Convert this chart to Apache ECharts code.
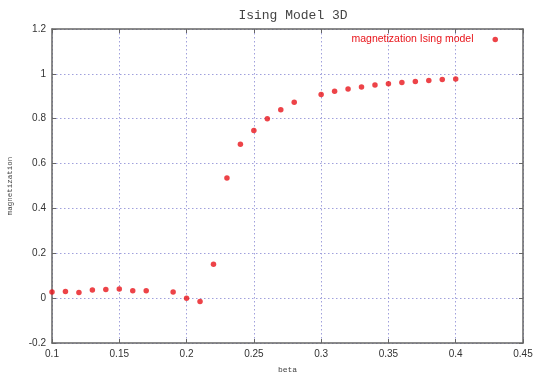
<!DOCTYPE html>
<html><head><meta charset="utf-8">
<script src="https://cdn.jsdelivr.net/npm/echarts@6/dist/echarts.min.js"></script>
<style>html,body{margin:0;padding:0;background:#fff}#c{width:534px;height:374px}</style>
</head><body><div id="c"></div>
<script>
const beta = [0.10,0.11,0.12,0.13,0.14,0.15,0.16,0.17,0.19,0.20,0.21,0.22,0.23,0.24,0.25,0.26,0.27,0.28,0.30,0.31,0.32,0.33,0.34,0.35,0.36,0.37,0.38,0.39,0.40];
const magnetization = [0.027,0.030,0.025,0.036,0.038,0.041,0.033,0.033,0.027,0.0,-0.015,0.151,0.536,0.686,0.748,0.800,0.840,0.873,0.908,0.923,0.933,0.941,0.950,0.956,0.961,0.966,0.970,0.975,0.977];
const seriesName = 'magnetization Ising model';

const data = beta.map((b,i)=>[b, magnetization[i]]);
const chart = echarts.init(document.getElementById('c'), null, {renderer:'canvas'});
const gridLine = {show:true, lineStyle:{color:'#a0a0dc', type:[1.5,2.5], width:1}};
const frame = {show:true, onZero:false, lineStyle:{color:'#666', width:1.5}};
const tick = {show:true, inside:true, length:4, lineStyle:{color:'#666'}};
const lbl = {color:'#333', fontSize:10, fontFamily:'Liberation Sans, Arial, sans-serif'};
chart.setOption({
  animation:false,
  backgroundColor:'#fff',
  title:{text:'Ising Model 3D', left:288, top:4, textAlign:'center',
    textStyle:{fontFamily:'Liberation Mono, monospace', fontWeight:'normal', fontSize:13, color:'#444'}},
  legend:{data:[seriesName], right:34, top:32, padding:2, align:'right', icon:'circle', itemWidth:5.5, itemHeight:5.5,
    textStyle:{color:'#e8141a', fontSize:10.5, fontFamily:'Liberation Sans, Arial, sans-serif', padding:[0,14,0,0]}},
  grid:{left:52, right:11, top:29, bottom:31, outerBoundsMode:'none', containLabel:false},
  xAxis:[
    {type:'value', min:0.1, max:0.45, interval:0.05, position:'bottom',
     name:'beta', nameLocation:'middle', nameGap:23,
     nameTextStyle:{fontFamily:'Liberation Mono, monospace', fontSize:8, color:'#444'},
     axisLine:frame, axisTick:tick, splitLine:gridLine,
     axisLabel:Object.assign({margin:6, formatter:v=>String(+v.toFixed(2))}, lbl)},
    {type:'value', min:0.1, max:0.45, interval:0.05, position:'top',
     axisLine:frame, axisTick:tick, splitLine:{show:false}, axisLabel:{show:false}}
  ],
  yAxis:[
    {type:'value', min:-0.2, max:1.2, interval:0.2, position:'left',
     name:'magnetization', nameLocation:'middle', nameGap:38,
     nameTextStyle:{fontFamily:'Liberation Mono, monospace', fontSize:7.5, color:'#444'},
     axisLine:frame, axisTick:tick, splitLine:gridLine,
     axisLabel:Object.assign({margin:6, formatter:v=>String(+v.toFixed(1))}, lbl)},
    {type:'value', min:-0.2, max:1.2, interval:0.2, position:'right',
     axisLine:frame, axisTick:tick, splitLine:{show:false}, axisLabel:{show:false}}
  ],
  series:[{name:seriesName, type:'scatter', data:data, symbol:'circle', symbolSize:5.5,
    itemStyle:{color:'#e8141a'}}]
});
</script></body></html>
